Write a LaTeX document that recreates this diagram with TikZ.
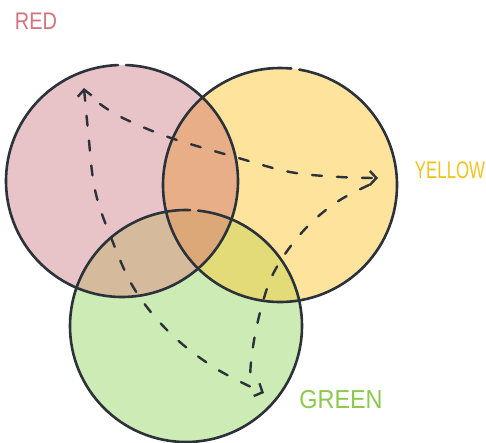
\documentclass[tikz,border=0pt]{standalone}
\usepackage{fontspec}
\newfontfamily\handfont{Liberation Sans}
\usetikzlibrary{arrows.meta}
\definecolor{redc}{HTML}{E8C3C8}
\definecolor{yelc}{HTML}{FEE39C}
\definecolor{grnc}{HTML}{CDECB5}
\definecolor{ryc}{HTML}{E8AE88}
\definecolor{rgc}{HTML}{D5BA9C}
\definecolor{ygc}{HTML}{E3DA78}
\definecolor{allc}{HTML}{DCA878}
\definecolor{inkc}{HTML}{2B323A}
\definecolor{redtxt}{HTML}{D4737F}
\definecolor{yeltxt}{HTML}{F2C21B}
\definecolor{grntxt}{HTML}{8CC84B}
\tikzset{
  ring/.style={draw=inkc, line width=2.6pt, line cap=round},
  dashline/.style={draw=inkc, line width=2.4pt, line cap=round, dash pattern=on 10pt off 15pt},
  tipbarb/.tip={Straight Barb[length=6.5pt,width=14pt,line width=2.4pt]},
  label/.style={font=\handfont\fontsize{24}{24}\selectfont, inner sep=0pt}
}
\begin{document}
\begin{tikzpicture}[x=1pt,y=-1pt]
\useasboundingbox (0,0) rectangle (486,443);
\coordinate (R) at (122,181);
\coordinate (Y) at (280,185);
\coordinate (G) at (186,326);
\def\rr{116}
\def\ry{117}
\def\rg{116}
% fills
\fill[redc] (R) circle[radius=\rr];
\fill[yelc] (Y) circle[radius=\ry];
\fill[grnc] (G) circle[radius=\rg];
\begin{scope}
  \clip (R) circle[radius=\rr];
  \fill[ryc] (Y) circle[radius=\ry];
  \fill[rgc] (G) circle[radius=\rg];
\end{scope}
\begin{scope}
  \clip (Y) circle[radius=\ry];
  \fill[ygc] (G) circle[radius=\rg];
\end{scope}
\begin{scope}
  \clip (R) circle[radius=\rr];
  \clip (Y) circle[radius=\ry];
  \fill[allc] (G) circle[radius=\rg];
\end{scope}
% outlines with small gaps
\draw[ring] (R) ++(-88:\rr) arc[start angle=-88, end angle=268, radius=\rr];
\draw[ring] (Y) ++(-80.5:\ry) arc[start angle=-80.5, end angle=275.5, radius=\ry];
\draw[ring] (G) ++(-84:\rg) arc[start angle=-84, end angle=272, radius=\rg];
% vertices
\coordinate (rv) at (84,88);
\coordinate (rs) at (100,104);
\coordinate (yv) at (378,178);
\coordinate (ys) at (369,185);
\coordinate (gv) at (264,393);
\coordinate (ge) at (250,382);
% dashed connectors
\draw[dashline, tipbarb-tipbarb]
  plot[smooth, tension=0.6] coordinates {(rv) (88,130) (95,190) (112,240) (135,290) (170,333) (215,368) (gv)};
\draw[dashline, -tipbarb]
  plot[smooth, tension=0.6] coordinates {(rs) (117,115) (145,128) (177,140) (235,157) (290,172) (340,177) (yv)};
\draw[dashline]
  plot[smooth, tension=0.6] coordinates {(ys) (340,200) (313,221) (290,247) (272,276) (262,305) (255,335) (251,362) (ge)};
% labels
\node[label, text=redtxt, xscale=0.83] (redlab) at (36,21) {RED};
\node[label, text=yeltxt, xscale=0.7] (yellab) at (450,170) {YELLOW};
\node[label, text=grntxt, xscale=0.9, font=\handfont\fontsize{26}{26}\selectfont] (grnlab) at (341,400) {GREEN};
\end{tikzpicture}
\end{document}
